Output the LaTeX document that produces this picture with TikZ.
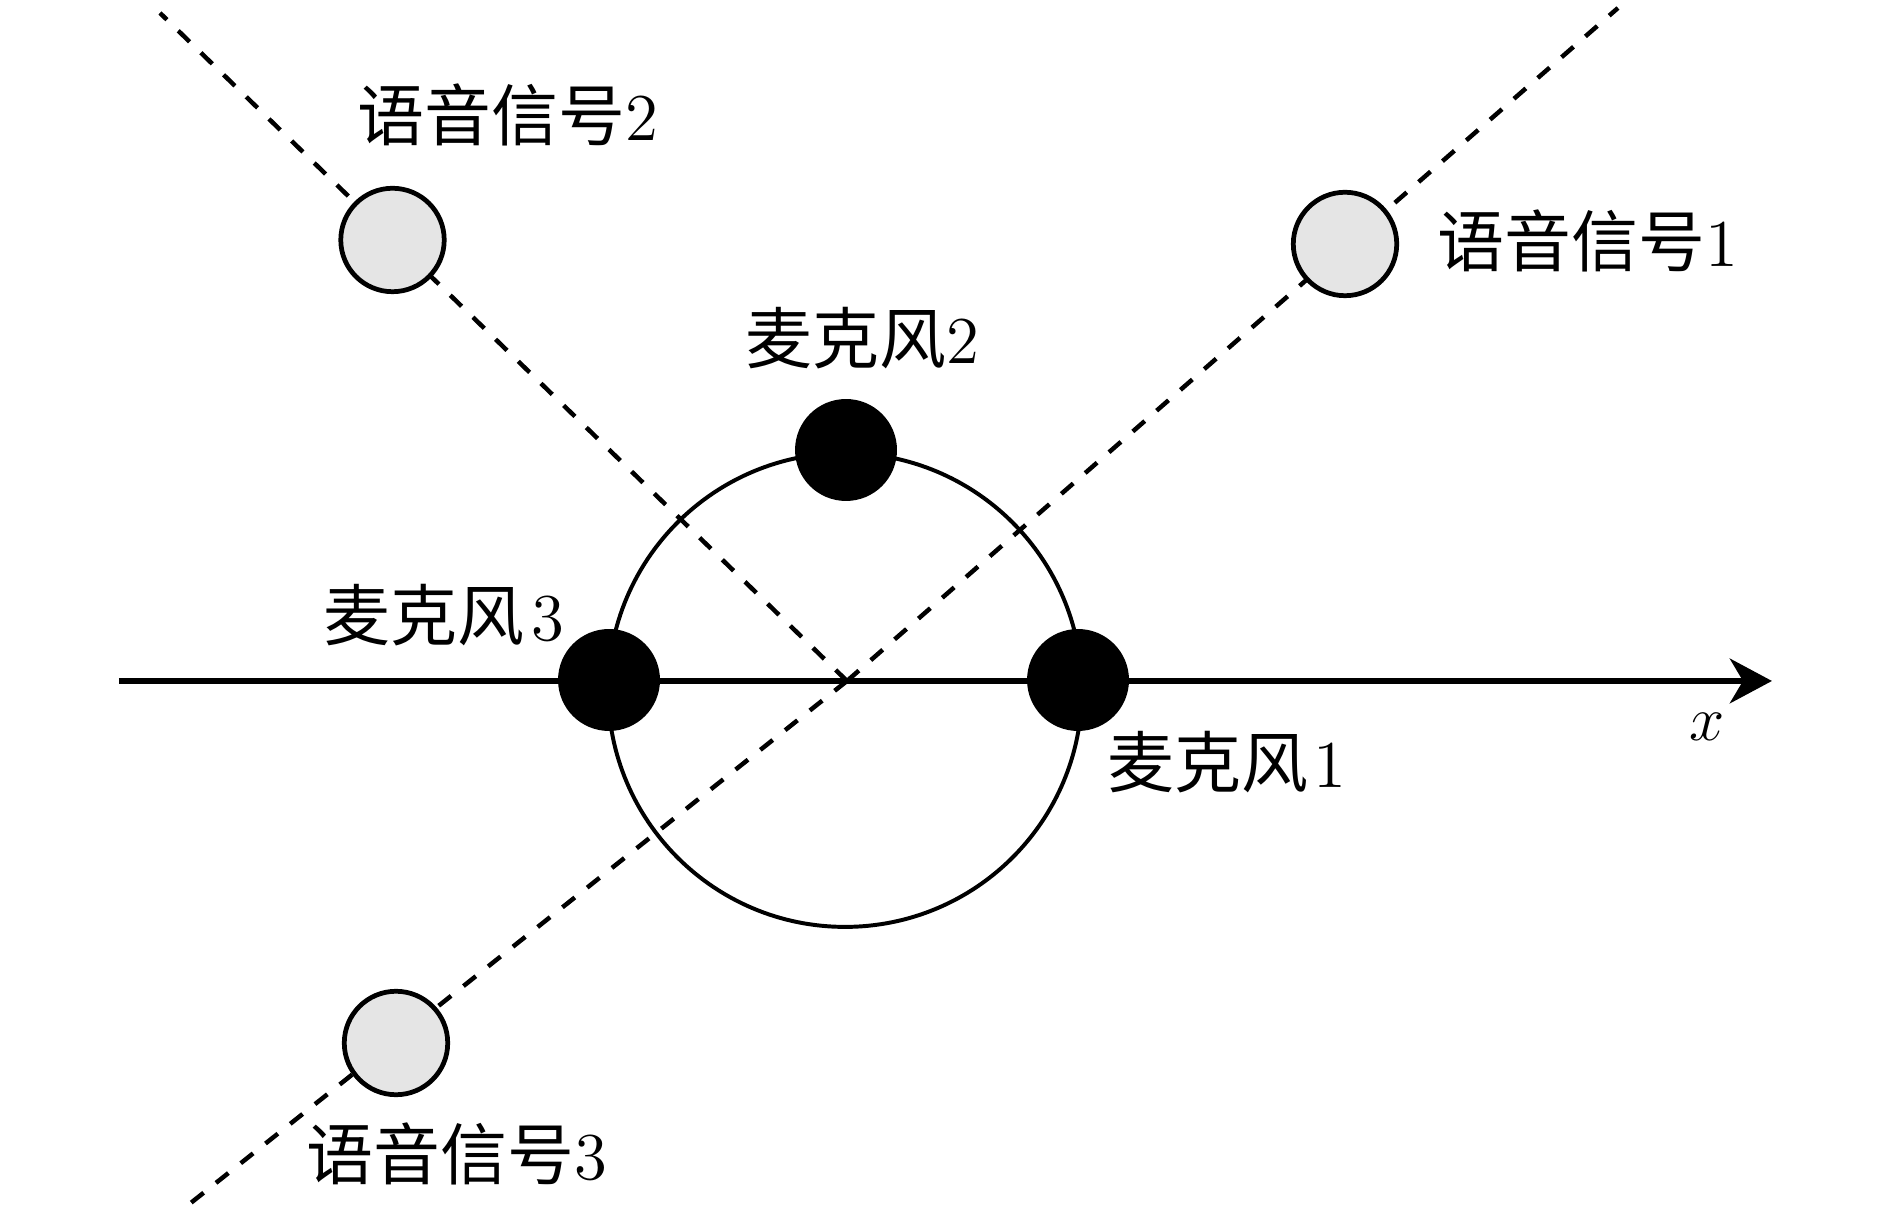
\documentclass[tikz,border=0pt]{standalone}
\usepackage{fontspec}
\newfontfamily\cjk{Noto Sans CJK SC}
\usetikzlibrary{arrows.meta}

\begin{document}
\begin{tikzpicture}[scale=0.0667]
\tikzstyle{every node}+=[inner sep=0pt, font=\fontsize{12.7}{15}\selectfont]
\tikzstyle{mic}=[circle, fill=black, minimum size=0.68cm]
\tikzstyle{source}=[circle, draw=black, line width=0.9pt, fill=gray!20, minimum size=0.69cm]
\tikzstyle{ring}=[circle, draw=black, line width=0.75pt, minimum size=3.16cm]
\tikzstyle{ray}=[black, line width=0.85pt, dashed]
\useasboundingbox (0,0) rectangle (189,-121.9);
\coordinate (O) at (84.7,-68.1);
\coordinate (e1) at (161.8,-0.8);
\coordinate (e2) at (16.0,-1.3);
\coordinate (e3) at (18.2,-121.0);
\draw [ray] (O) -- (e1);
\draw [ray] (O) -- (e2);
\draw [ray] (O) -- (e3);
\node [ring] (ring) at (84.5,-69.0) {};
\coordinate (xs) at (11.9,-68.1);
\coordinate (xe) at (177.2,-68.1);
\draw [black, line width=1pt, -{Stealth[length=8pt,width=8.5pt,inset=2.5pt]}] (xs) -- (xe);
\node (xl) at (170.7,-72.7) {$x$};
\node [mic] (m1) at (107.8,-68.0) {};
\node [mic] (m2) at (84.6,-45.0) {};
\node [mic] (m3) at (60.9,-68.0) {};
\node [source] (s1) at (134.5,-24.4) {};
\node [source] (s2) at (39.25,-24.0) {};
\node [source] (s3) at (39.6,-104.3) {};
\node (l1) at (158.8,-24.1) {{\cjk 语音信号}1};
\node (l2) at (50.8,-11.5) {{\cjk 语音信号}2};
\node (l3) at (45.7,-115.4) {{\cjk 语音信号}3};
\node (k1) at (122.7,-76.2) {{\cjk 麦克风}\kern1pt1};
\node (k2) at (86.2,-33.8) {{\cjk 麦克风}2};
\node (k3) at (44.4,-61.5) {{\cjk 麦克风}\kern1.5pt3};
\end{tikzpicture}
\end{document}
